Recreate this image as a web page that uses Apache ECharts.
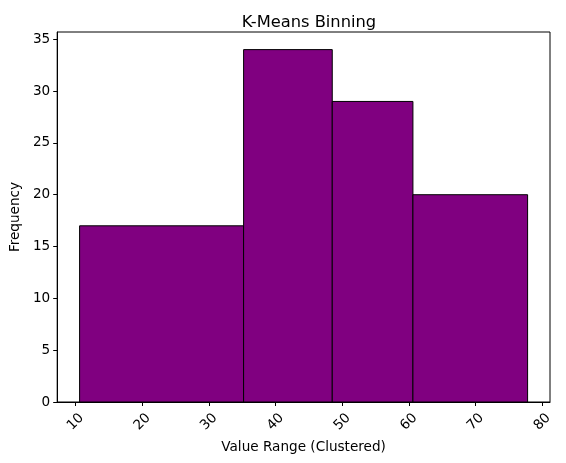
<!DOCTYPE html>
<html>
<head>
<meta charset="utf-8">
<script src="https://cdn.jsdelivr.net/npm/echarts@6/dist/echarts.min.js"></script>
<style>
html,body{margin:0;padding:0;background:#fff;}
#main{width:566px;height:463px;}
</style>
</head>
<body>
<div id="main"></div>
<script>
// bin edges from the k-means clustering, and counts per bin
var binEdges = [10.6, 35.2, 48.5, 60.6, 77.8];
var binCounts = [17, 34, 29, 20];
var xTicks = [10, 20, 30, 40, 50, 60, 70, 80];
var yTicks = [0, 5, 10, 15, 20, 25, 30, 35];

var chart = echarts.init(document.getElementById('main'));

var bins = [];
for (var i = 0; i < binCounts.length; i++) {
	bins.push([binEdges[i], binEdges[i + 1], binCounts[i]]);
}
// matplotlib style 5% margins
var span = binEdges[binEdges.length - 1] - binEdges[0];
var xMin = binEdges[0] - span * 0.05;
var xMax = binEdges[binEdges.length - 1] + span * 0.05;
var yMax = Math.max.apply(null, binCounts) * 1.05;

var fontFam = 'DejaVu Sans';
var fs = 13.6;

chart.setOption({
	animation: false,
	title: {
		text: 'K-Means Binning',
		left: 304,
		top: 10,
		textAlign: 'center',
		textStyle: {fontFamily: fontFam, fontSize: 16.3, fontWeight: 'normal', color: '#000'}
	},
	grid: {
		left: 57, right: 16, top: 32, bottom: 61,
		show: true, borderColor: '#000', borderWidth: 1
	},
	xAxis: {
		type: 'value',
		min: xMin, max: xMax,
		name: 'Value Range (Clustered)',
		nameLocation: 'middle',
		nameGap: 37,
		nameTextStyle: {fontFamily: fontFam, fontSize: fs, color: '#000'},
		splitLine: {show: false},
		axisLine: {show: true, lineStyle: {color: '#000'}},
		axisTick: {show: true, length: 4, lineStyle: {color: '#000'}, customValues: xTicks},
		axisLabel: {
			fontFamily: fontFam, fontSize: fs, color: '#000', rotate: 45,
			align: 'center', verticalAlign: 'middle', margin: 20,
			customValues: xTicks
		}
	},
	yAxis: {
		type: 'value',
		min: 0, max: yMax,
		name: 'Frequency',
		nameLocation: 'middle',
		nameGap: 32,
		nameTextStyle: {fontFamily: fontFam, fontSize: fs, color: '#000'},
		splitLine: {show: false},
		axisLine: {show: true, lineStyle: {color: '#000'}},
		axisTick: {show: true, length: 4, lineStyle: {color: '#000'}, customValues: yTicks},
		axisLabel: {
			fontFamily: fontFam, fontSize: fs, color: '#000', margin: 7,
			customValues: yTicks
		}
	},
	series: [{
		type: 'custom',
		data: bins,
		encode: {x: [0, 1], y: 2},
		renderItem: function (params, api) {
			var p0 = api.coord([api.value(0), 0]);
			var p1 = api.coord([api.value(1), api.value(2)]);
			return {
				type: 'rect',
				shape: {x: p0[0], y: p1[1], width: p1[0] - p0[0], height: p0[1] - p1[1]},
				style: {fill: '#800080', stroke: '#000', lineWidth: 1}
			};
		}
	}]
});
</script>
</body>
</html>
